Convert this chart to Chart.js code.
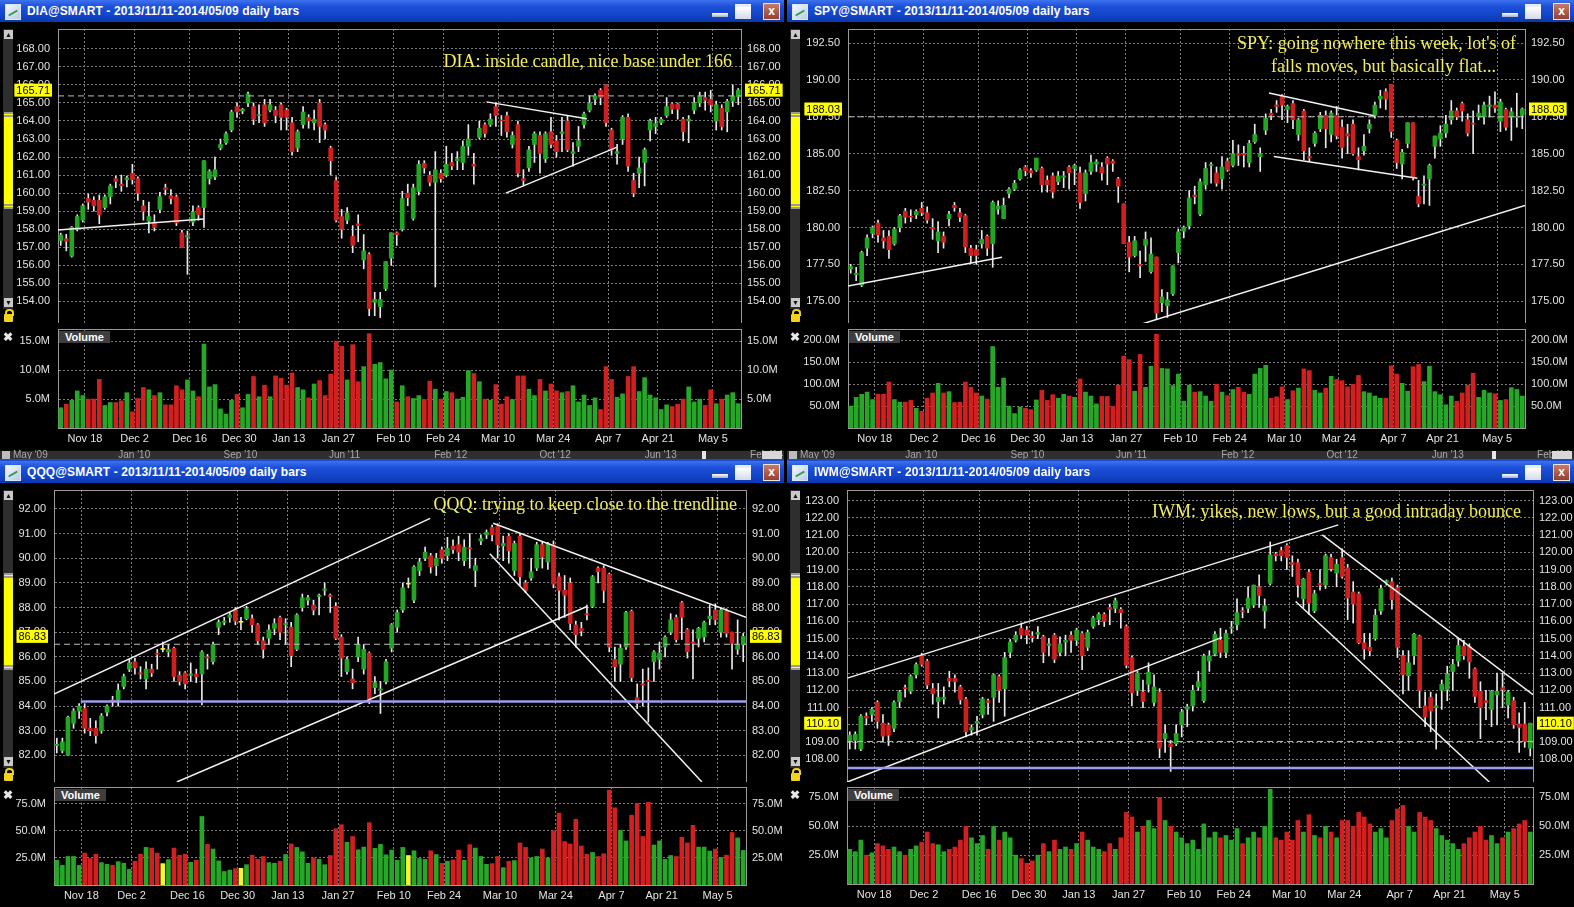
<!DOCTYPE html>
<html><head><meta charset="utf-8">
<script src="https://cdn.jsdelivr.net/npm/chart.js@4.4.1/dist/chart.umd.min.js"></script>
<style>
html,body{margin:0;padding:0;background:#000;width:1574px;height:907px;overflow:hidden;font-family:"Liberation Sans",Arial,sans-serif;}
canvas{position:absolute;}
</style></head><body>
<script>
// ---------- categories (trading days) ----------
const dates = [
 'Nov 11','Nov 12','Nov 13','Nov 14','Nov 15','Nov 18','Nov 19','Nov 20','Nov 21','Nov 22','Nov 25','Nov 26','Nov 27','Nov 29',
 'Dec 2','Dec 3','Dec 4','Dec 5','Dec 6','Dec 9','Dec 10','Dec 11','Dec 12','Dec 13','Dec 16','Dec 17','Dec 18','Dec 19','Dec 20','Dec 23','Dec 24','Dec 26','Dec 27','Dec 30','Dec 31',
 'Jan 2','Jan 3','Jan 6','Jan 7','Jan 8','Jan 9','Jan 10','Jan 13','Jan 14','Jan 15','Jan 16','Jan 17','Jan 21','Jan 22','Jan 23','Jan 24','Jan 27','Jan 28','Jan 29','Jan 30','Jan 31',
 'Feb 3','Feb 4','Feb 5','Feb 6','Feb 7','Feb 10','Feb 11','Feb 12','Feb 13','Feb 14','Feb 18','Feb 19','Feb 20','Feb 21','Feb 24','Feb 25','Feb 26','Feb 27','Feb 28',
 'Mar 3','Mar 4','Mar 5','Mar 6','Mar 7','Mar 10','Mar 11','Mar 12','Mar 13','Mar 14','Mar 17','Mar 18','Mar 19','Mar 20','Mar 21','Mar 24','Mar 25','Mar 26','Mar 27','Mar 28','Mar 31',
 'Apr 1','Apr 2','Apr 3','Apr 4','Apr 7','Apr 8','Apr 9','Apr 10','Apr 11','Apr 14','Apr 15','Apr 16','Apr 17','Apr 21','Apr 22','Apr 23','Apr 24','Apr 25','Apr 28','Apr 29','Apr 30',
 'May 1','May 2','May 5','May 6','May 7','May 8','May 9'];
const tickLabels = ['Nov 18','Dec 2','Dec 16','Dec 30','Jan 13','Jan 27','Feb 10','Feb 24','Mar 10','Mar 24','Apr 7','Apr 21','May 5'];
const scrollLabels = ["May '09","Jan '10","Sep '10","Jun '11","Feb '12","Oct '12","Jun '13","Feb '14"];

// ---------- DIA ----------
const DIA_open = [157.37,157.46,156.50,158.00,158.50,159.70,159.60,159.60,159.20,159.80,
160.80,160.50,160.75,161.10,160.80,159.30,158.45,158.40,159.10,160.30,
159.85,159.80,157.80,157.55,158.40,159.20,159.20,160.80,160.90,162.50,
162.80,163.50,164.80,164.55,165.00,164.80,164.30,164.90,164.60,164.60,
164.90,164.60,163.90,162.50,163.80,164.20,163.90,165.00,163.80,162.50,
160.70,158.70,158.50,157.60,158.30,156.30,156.60,153.95,153.70,154.70,
156.40,157.80,158.00,160.00,158.60,160.10,161.65,161.00,160.60,161.10,
161.00,161.70,161.80,161.70,162.60,161.60,163.10,163.80,163.80,164.80,
164.05,164.30,162.70,163.80,160.80,161.40,162.70,163.20,161.90,163.40,
162.90,163.30,164.00,162.20,162.60,163.80,164.60,165.20,165.70,166.00,
163.50,162.20,163.00,164.20,160.70,161.10,161.70,163.50,163.70,163.90,
164.30,164.95,164.95,164.10,164.00,164.60,165.00,165.30,165.20,164.00,
164.70,164.50,165.10,165.35];
const DIA_high = [157.78,157.72,158.15,158.80,159.40,159.95,159.80,159.90,159.90,160.50,
160.95,161.00,160.95,161.60,160.90,159.60,159.50,158.80,160.05,160.50,
160.20,159.90,157.95,157.90,159.30,159.30,161.80,161.30,162.00,163.00,
163.40,164.60,165.00,164.70,165.60,165.00,164.90,165.20,165.20,164.80,
165.00,164.70,164.20,163.50,164.80,164.35,164.60,165.20,163.90,162.60,
160.90,159.10,159.20,158.20,158.80,157.70,156.70,154.50,154.50,156.20,
157.80,157.85,160.10,160.50,160.50,161.80,161.80,161.20,162.30,161.30,
162.60,162.20,162.30,162.90,163.80,162.20,164.00,163.90,164.40,165.00,
164.30,164.50,163.40,164.00,161.30,162.60,163.40,163.40,163.40,164.20,
163.20,164.20,164.30,162.80,163.70,164.50,165.40,165.50,165.80,166.00,
163.60,162.70,164.30,164.40,161.10,162.00,162.50,164.10,164.20,164.20,
165.30,165.00,165.00,164.20,164.30,165.30,165.60,165.60,165.70,165.10,
164.90,165.20,166.00,165.80];
const DIA_low = [157.10,156.80,156.45,157.90,158.40,159.10,159.00,158.30,159.10,159.40,
160.30,160.10,160.35,160.50,159.60,158.50,157.80,157.90,158.90,159.90,
159.40,158.20,157.00,155.50,158.20,158.50,158.10,160.50,160.75,162.40,
162.70,163.40,164.20,164.40,164.80,163.80,163.90,163.70,164.50,163.90,
163.50,163.50,162.10,162.30,163.60,163.60,163.50,162.80,163.00,161.00,
158.40,157.50,158.30,156.70,157.30,155.80,153.20,153.20,153.10,154.60,
156.00,157.10,157.90,159.30,158.50,159.90,161.10,160.40,154.80,160.60,
160.90,161.30,161.30,161.30,162.10,160.50,163.00,163.10,163.70,163.70,
163.20,163.10,162.50,160.90,160.40,161.20,161.70,161.10,161.70,162.50,
162.00,162.30,162.30,161.50,162.30,163.60,164.50,164.90,164.90,163.70,
162.10,161.60,162.70,161.20,159.80,160.30,160.40,162.90,163.30,163.80,
164.20,164.40,164.10,162.90,162.80,164.40,164.80,164.60,164.50,163.50,
163.50,163.40,164.80,164.90];
const DIA_close = [157.68,157.33,158.10,158.70,159.30,159.50,159.30,158.80,159.80,160.40,
160.65,160.40,160.85,160.75,160.00,159.00,158.70,158.10,159.80,160.20,
159.70,158.35,157.00,157.65,158.95,158.80,161.80,161.20,161.30,162.70,
163.30,164.50,164.50,164.65,165.50,164.10,164.35,163.90,164.90,164.30,
164.20,164.20,162.30,163.40,164.50,164.00,164.10,163.70,163.50,161.80,
158.50,158.00,158.90,157.10,158.20,156.80,153.60,154.10,154.10,156.20,
157.80,157.70,159.70,159.75,160.30,161.60,161.40,160.60,161.30,160.80,
161.60,161.50,161.90,162.60,163.00,161.50,163.60,163.30,164.10,164.30,
164.00,163.40,163.20,161.10,160.70,162.40,163.30,162.20,163.30,162.70,
162.30,163.40,162.40,162.30,162.90,164.40,165.00,165.40,165.30,163.90,
162.40,162.30,164.20,161.50,160.00,161.40,162.40,164.00,163.85,164.10,
164.80,164.65,164.65,163.40,164.10,165.00,165.40,165.15,164.90,164.90,
163.70,165.10,165.39,165.71];
const DIA_vol = [3.5,4.1,4.8,6.4,5.6,5.0,5.0,8.4,3.9,4.4,
4.4,4.7,6.1,2.8,5.1,7.0,6.6,5.6,6.1,4.0,
4.0,7.3,6.6,8.3,6.4,5.4,14.5,7.1,7.5,3.3,
2.4,4.8,5.8,3.5,5.8,8.9,5.4,7.4,5.4,9.0,
8.6,7.4,9.5,7.0,6.6,5.2,7.6,8.2,5.6,9.3,
15.0,14.1,8.3,14.4,8.0,10.6,16.3,11.0,11.3,8.5,
10.0,4.5,7.3,5.4,5.1,5.6,4.9,8.1,6.7,5.0,
6.3,6.1,5.0,5.3,9.9,9.4,8.0,5.0,4.8,7.5,
4.1,5.4,4.9,9.0,9.0,6.7,5.6,8.4,6.4,7.6,
6.4,6.1,6.3,7.3,4.5,5.7,3.9,5.2,3.2,10.6,
8.4,5.3,5.9,8.9,10.6,6.3,8.7,5.7,5.2,3.2,
4.0,3.7,4.1,5.0,7.1,4.5,5.0,3.9,6.6,4.2,
5.0,5.7,6.1,4.2];
const DIA_priceTicks = [154,155,156,157,158,159,160,161,162,163,164,165,166,167,168];
const DIA_volTicks = [5,10,15];
const DIA_trend = [[-0.6,157.96,25.9,158.57],[77.3,165.06,95.5,164.13],[80.8,160.0,100.9,162.54]];

// ---------- SPY ----------
const SPY_open = [177.20,176.80,176.10,178.60,179.60,180.30,179.30,179.40,178.90,180.00,
181.10,180.75,180.85,181.30,181.00,180.00,179.10,179.40,180.60,181.50,
181.00,180.80,178.60,178.50,178.90,179.40,178.90,181.25,180.60,182.30,
182.60,183.30,184.10,183.85,183.90,184.00,183.20,183.50,183.10,183.40,
184.10,184.00,183.70,182.30,183.80,184.30,184.10,184.70,184.50,183.30,
181.60,179.00,178.10,177.50,178.80,177.00,178.00,174.90,174.70,175.50,
178.30,179.75,180.10,182.20,180.90,182.90,184.20,183.70,183.30,184.50,
184.20,185.00,185.00,184.40,185.80,184.80,186.60,187.75,188.30,188.90,
188.00,188.40,186.30,187.90,184.80,185.70,186.70,187.60,186.30,187.60,
186.80,186.35,187.00,184.80,185.20,186.70,187.60,188.70,189.20,189.70,
185.90,184.30,185.70,187.10,182.10,182.85,183.30,185.50,186.00,186.40,
187.30,187.90,188.40,187.30,187.05,187.50,187.50,188.20,188.30,187.20,
188.00,187.50,187.45,187.60];
const SPY_high = [177.50,177.30,178.40,179.50,180.10,180.50,179.80,179.80,180.00,180.90,
181.30,181.20,181.20,181.70,181.40,180.60,180.40,179.70,181.10,181.70,
181.30,180.90,178.80,178.80,179.80,179.50,181.80,181.80,182.00,182.70,
183.20,184.00,184.20,184.00,184.70,184.10,183.50,183.70,183.80,183.80,
184.20,184.30,184.10,183.90,184.90,184.60,184.40,184.80,184.60,183.40,
181.60,179.40,179.40,178.40,179.70,179.30,178.00,175.80,175.60,177.40,
179.90,180.10,182.50,182.80,183.30,184.40,184.40,184.10,184.80,184.70,
185.90,185.60,185.50,185.90,187.00,185.40,187.70,188.00,188.60,189.00,
188.30,188.60,187.40,188.00,185.40,186.50,187.80,187.90,187.90,188.20,
187.30,187.00,187.30,185.40,186.30,187.30,188.50,189.30,189.40,189.70,
186.00,185.30,187.10,187.10,183.20,183.50,184.30,186.20,186.90,187.60,
188.60,188.10,188.50,187.70,187.90,188.30,188.50,188.90,189.20,188.70,
188.10,188.10,189.10,188.10];
const SPY_low = [176.90,176.40,176.00,178.10,179.30,179.00,178.60,177.90,178.80,179.70,
180.30,180.40,180.60,180.80,180.30,179.20,178.30,178.60,180.10,181.10,
180.40,178.30,177.60,177.50,178.60,178.10,177.30,180.90,180.60,182.00,
182.50,183.20,183.50,183.40,183.80,182.40,182.40,182.00,182.90,182.70,
182.60,182.90,181.30,181.80,183.60,183.80,183.20,182.90,183.80,181.70,
178.90,177.00,178.00,176.60,177.70,176.90,173.80,174.30,173.90,175.40,
177.60,179.30,179.90,181.60,180.80,182.60,183.00,182.80,182.60,183.80,
184.10,184.20,184.10,184.10,185.70,183.80,186.30,187.30,187.80,187.30,
187.10,186.70,185.90,184.60,184.50,185.50,186.50,185.40,185.80,186.00,
184.70,185.00,184.90,183.90,184.90,186.40,187.40,188.10,188.00,186.10,
184.00,183.30,185.40,183.20,181.40,181.60,181.50,184.70,185.50,186.10,
187.00,187.30,187.20,186.20,185.00,187.30,187.00,187.50,187.80,186.50,
186.60,185.90,186.80,186.70];
const SPY_close = [177.35,176.90,178.30,179.30,180.00,179.50,179.10,178.50,179.90,180.80,
180.70,180.70,181.10,181.00,180.50,179.90,179.70,179.00,180.90,181.35,
180.70,178.70,178.10,178.10,179.20,178.60,181.70,181.45,181.50,182.60,
183.00,183.90,183.85,183.70,184.70,182.90,182.90,182.40,183.50,183.50,
183.70,184.20,181.70,183.70,184.40,184.45,183.70,184.30,184.35,182.80,
178.90,178.00,179.10,177.40,179.20,178.20,174.20,175.30,175.10,177.40,
179.70,180.00,182.00,182.10,183.10,184.00,184.25,183.00,184.10,183.90,
185.00,184.90,184.90,185.70,186.30,185.00,187.40,187.60,188.20,188.30,
188.20,187.30,187.30,185.20,184.70,186.40,187.60,186.70,187.75,186.20,
185.40,186.20,185.00,184.60,185.50,187.00,188.30,188.90,188.70,186.50,
184.40,185.10,187.10,183.40,181.60,182.95,184.20,186.20,186.40,187.00,
187.90,187.50,187.90,186.40,187.00,187.75,188.30,188.30,188.10,188.50,
186.80,187.85,187.50,188.03];
const SPY_vol = [50,70,77,82,65,77,77,105,65,59,
59,63,45,38,68,80,102,80,83,58,
59,105,93,80,73,66,186,93,114,50,
33,48,45,42,64,86,63,76,68,77,
73,70,112,82,73,55,72,72,49,98,
164,156,84,168,93,141,214,136,135,97,
123,61,98,82,83,73,61,100,82,74,
88,93,82,77,123,136,143,68,71,94,
65,85,91,135,131,86,80,91,118,111,
108,94,100,120,83,80,73,68,68,142,
123,102,84,140,145,106,141,83,76,53,
73,61,80,98,125,70,86,80,78,63,
65,92,88,73];
const SPY_priceTicks = [175,177.5,180,182.5,185,187.5,190,192.5];
const SPY_volTicks = [50,100,150,200];
const SPY_trend = [[-0.5,176.04,27.7,177.98],[53.3,173.46,123.5,181.49],[76.6,189.11,95.8,187.57],[77.5,184.81,103.8,183.34]];

// ---------- QQQ ----------
const QQQ_open = [82.40,82.20,82.00,83.30,83.80,83.90,83.10,83.10,83.00,83.75,
84.25,84.25,84.80,85.50,85.80,85.35,85.10,85.50,86.15,86.30,
86.20,86.35,85.25,85.35,85.25,85.30,85.30,86.00,85.80,87.20,
87.40,87.60,87.90,87.40,87.55,87.55,87.30,86.65,86.75,87.15,
87.60,87.30,87.20,86.30,88.00,88.30,88.10,88.45,88.70,88.50,
88.05,86.80,85.40,85.10,86.00,85.50,86.15,84.75,84.65,85.00,
86.35,87.20,87.90,88.95,88.30,89.50,90.00,90.10,89.70,90.35,
90.10,90.50,90.55,89.90,90.42,89.50,90.70,90.95,91.25,91.30,
90.50,90.90,89.50,90.90,89.00,89.20,89.60,90.55,89.85,90.55,
89.25,88.70,89.00,87.30,87.15,87.75,88.05,89.60,89.60,89.35,
85.90,85.70,86.40,87.85,84.35,84.90,85.05,85.80,85.90,86.40,
87.00,87.60,88.20,87.10,86.60,86.75,86.80,87.55,87.90,87.00,
87.85,87.00,86.30,86.50];
const QQQ_high = [82.70,82.70,83.60,83.90,84.10,84.10,83.50,83.40,83.70,84.05,
84.40,84.90,85.30,85.90,85.95,85.60,85.80,85.70,86.30,86.60,
86.50,86.40,85.40,85.40,85.75,85.50,86.25,86.10,86.60,87.50,
87.60,87.80,88.00,87.60,88.05,87.70,87.35,86.80,87.30,87.55,
87.65,87.55,87.40,87.75,88.55,88.50,88.30,88.55,89.00,88.55,
88.20,86.90,86.00,85.50,86.80,86.50,86.20,85.20,85.00,85.90,
87.35,87.90,89.00,89.20,89.70,90.00,90.45,90.20,90.20,90.45,
90.85,90.75,90.90,90.75,91.00,90.00,90.95,91.15,91.35,91.40,
90.90,91.00,90.70,91.00,89.10,90.00,90.65,90.65,90.65,90.70,
89.40,89.30,89.20,87.45,87.40,88.10,89.30,89.65,89.70,89.40,
86.40,86.50,87.85,87.90,84.90,85.50,85.55,86.25,86.60,86.85,
87.75,87.70,88.25,87.15,87.10,87.20,87.45,88.10,88.15,88.00,
87.95,87.00,87.50,86.95];
const QQQ_low = [82.10,82.10,82.00,83.10,83.50,82.90,82.80,82.50,82.90,83.60,
84.00,84.00,84.70,85.40,85.30,85.10,84.70,85.20,85.50,86.20,
86.00,85.00,84.85,84.70,85.00,84.95,84.05,85.50,85.70,86.90,
87.30,87.40,87.30,87.10,87.50,87.00,86.50,85.95,86.50,86.90,
86.70,86.50,85.60,86.25,87.85,88.10,87.70,87.70,88.50,87.80,
86.70,85.20,85.30,84.70,85.80,85.30,84.10,84.50,83.70,84.90,
86.20,87.00,87.80,88.80,88.20,89.30,89.90,89.40,89.30,89.80,
89.90,90.20,89.90,89.70,89.60,88.85,90.55,90.80,90.70,90.00,
89.90,89.80,89.30,88.90,88.60,89.10,89.50,89.60,89.55,88.80,
87.50,87.60,87.10,86.40,86.85,87.50,88.00,89.00,88.20,86.20,
85.00,85.00,86.30,85.00,83.90,84.00,83.35,85.00,85.50,86.00,
86.90,86.60,86.70,85.95,85.10,86.40,86.60,87.30,87.30,86.80,
86.80,85.50,86.10,85.80];
const QQQ_close = [82.45,82.55,83.55,83.80,84.00,83.10,83.00,82.80,83.60,84.00,
84.20,84.65,85.20,85.75,85.55,85.30,85.50,85.35,86.10,86.30,
86.30,85.20,85.00,84.90,85.30,85.20,86.20,85.95,86.50,87.40,
87.45,87.70,87.45,87.40,87.95,87.30,86.65,86.30,87.10,87.35,
87.00,87.35,86.05,87.70,88.40,88.40,87.90,88.50,88.75,88.45,
86.75,85.95,85.90,84.95,86.50,86.30,84.30,84.95,84.70,85.80,
87.30,87.80,88.80,88.95,89.65,89.85,90.25,89.65,90.00,90.00,
90.40,90.35,90.25,90.45,90.38,89.70,90.80,91.05,90.95,90.55,
90.60,90.30,90.60,89.25,88.70,89.45,90.55,90.05,90.60,88.95,
88.70,88.50,87.35,86.90,87.05,87.70,89.25,89.45,88.70,86.40,
85.60,86.35,87.80,85.15,84.10,84.85,85.00,86.20,86.15,86.80,
87.50,86.70,87.60,86.20,86.55,87.15,87.40,87.65,87.50,87.90,
86.95,86.55,86.51,86.83];
const QQQ_vol = [22.9,18.2,26.4,26.4,18.2,29.5,24.5,28.5,20.7,19.1,
18.2,21.6,20.1,14.4,22.0,28.5,34.8,34.2,29.5,19.8,
23.5,34.2,27.6,28.5,21.0,22.9,63.4,37.6,33.3,22.3,
12.5,13.8,15.1,15.4,18.8,27.6,23.8,26.4,20.7,20.1,
22.0,28.2,38.0,34.8,30.7,20.1,25.1,23.8,18.8,27.3,
52.1,55.8,39.5,44.9,32.6,35.1,57.7,33.9,37.6,27.9,
32.3,22.9,34.8,27.3,31.7,24.5,23.8,31.7,28.2,20.1,
22.0,23.2,32.3,22.9,37.3,34.2,26.4,19.1,19.8,26.4,
16.0,22.0,22.6,38.9,34.8,25.1,26.4,33.3,25.1,50.2,
66.5,40.2,38.0,60.9,36.1,28.5,30.1,26.4,28.9,87.8,
71.5,50.5,40.8,64.6,75.6,44.9,76.5,37.0,40.8,23.8,
27.3,26.4,44.2,38.9,55.2,35.1,35.1,31.4,33.3,25.4,
27.6,48.6,43.6,32.0];
const QQQ_priceTicks = [82,83,84,85,86,87,88,89,90,91,92];
const QQQ_volTicks = [25,50,75];
const QQQ_trend = [[-0.5,84.49,66.9,91.62],[21.5,80.92,95.0,88.04],[78.2,91.42,123.5,87.6],[77.6,90.18,115.6,80.92]];
const QQQ_support = [4.3,84.19,123.5,84.19];

// ---------- IWM ----------
const IWM_open = [109.10,109.10,108.60,110.50,110.60,111.30,110.10,110.00,109.80,111.35,
112.15,111.95,112.90,114.00,113.70,112.10,111.35,111.50,112.70,112.70,
112.20,111.50,109.70,110.10,110.60,111.40,111.60,112.80,112.10,114.20,
114.90,115.60,115.50,115.15,115.25,115.10,114.60,115.20,114.20,114.80,
115.20,114.90,115.30,114.50,115.70,116.10,116.40,116.80,116.75,116.70,
115.70,113.90,112.00,111.90,112.35,111.30,111.90,109.20,108.90,108.90,
110.00,110.90,111.10,112.20,111.40,113.70,114.10,114.90,114.20,115.60,
115.80,116.60,116.75,116.95,118.00,116.60,118.20,119.90,120.10,120.40,
119.40,119.40,117.30,118.85,116.60,118.20,118.10,119.70,118.80,119.70,
119.10,117.70,117.60,114.75,114.50,115.00,116.60,118.25,118.30,117.95,
114.00,112.85,114.00,115.15,111.10,111.60,111.00,112.00,112.05,113.10,
113.70,114.55,114.55,113.25,111.95,111.40,110.90,111.75,112.15,111.15,
111.40,110.05,110.05,108.65];
const IWM_high = [109.60,109.60,110.60,110.70,111.00,111.40,110.60,110.10,111.40,112.00,
112.30,112.90,113.60,114.15,113.80,112.40,112.40,112.20,113.10,112.90,
112.30,111.60,110.00,110.50,111.60,111.50,112.95,112.90,114.20,114.95,
115.40,115.90,115.70,115.40,115.70,115.20,115.00,115.30,115.10,115.20,
115.40,115.60,115.40,115.50,116.30,116.50,116.50,117.00,117.35,116.80,
115.80,114.00,113.10,112.60,113.60,112.90,112.10,110.00,109.10,110.00,
110.90,111.20,112.30,113.10,114.10,114.30,115.40,115.60,115.50,116.00,
117.30,116.80,118.00,118.10,118.70,117.30,120.60,120.00,120.30,120.50,
119.80,119.60,118.50,119.00,117.80,119.00,119.90,119.90,119.60,120.20,
119.30,118.30,117.70,115.30,115.30,116.70,118.10,118.40,118.50,118.10,
114.30,114.30,115.30,115.20,111.90,111.90,111.80,112.60,113.40,113.80,
115.00,114.90,114.70,113.30,112.50,112.00,112.00,113.00,113.00,112.00,
111.60,110.70,111.30,110.10];
const IWM_low = [108.60,108.60,108.50,110.00,110.20,109.80,109.00,108.80,109.60,111.00,
111.60,111.80,112.70,113.40,112.10,111.20,110.40,111.20,112.20,111.90,
111.20,109.30,109.40,109.40,110.40,110.60,110.20,111.30,110.50,113.90,
114.80,115.00,114.70,114.80,115.00,113.60,114.00,113.60,114.00,114.00,
114.20,114.60,113.20,114.30,115.60,115.80,115.70,115.80,116.50,115.60,
113.30,111.10,111.70,111.00,111.90,111.10,108.10,108.40,107.30,108.80,
109.30,109.90,110.80,112.00,111.30,113.10,114.00,113.90,113.90,115.30,
115.50,116.20,116.50,116.80,116.80,115.60,118.10,119.50,119.50,119.00,
118.60,117.40,116.80,116.40,116.50,117.80,117.90,118.90,118.00,118.50,
116.10,115.90,114.70,113.80,114.00,114.90,116.40,118.10,116.70,113.90,
111.80,112.00,113.50,111.00,109.90,109.60,108.60,110.90,111.40,112.00,
113.40,113.80,112.70,111.30,109.20,110.30,109.90,110.00,111.00,110.40,
109.80,108.40,108.70,108.20];
const IWM_close = [109.40,109.45,110.50,110.40,110.90,110.20,109.35,109.40,111.30,111.90,
112.10,112.80,113.50,113.50,112.30,111.80,111.60,111.60,112.55,112.50,
111.45,109.60,109.85,110.20,111.50,111.30,112.90,112.00,113.90,114.80,
115.20,115.20,115.20,115.05,115.35,114.20,114.70,113.80,114.70,114.90,
114.90,115.50,114.00,115.35,116.20,116.40,116.00,116.70,117.20,116.50,
113.45,111.85,113.00,111.35,113.05,112.20,108.65,109.50,108.75,109.50,
110.75,111.05,112.00,112.50,114.00,114.00,115.25,114.20,115.30,115.65,
116.50,116.55,117.35,118.10,117.50,116.90,119.85,119.80,119.80,119.70,
119.30,118.10,118.45,117.05,117.60,118.10,119.80,119.05,119.30,118.60,
117.35,117.00,114.75,114.40,114.30,116.35,117.90,118.35,117.25,114.50,
112.90,113.60,115.25,112.00,110.45,110.80,111.10,112.35,112.95,113.50,
114.60,114.00,113.65,111.65,111.00,111.30,111.95,111.95,112.05,111.90,
110.00,109.85,109.04,110.10];
const IWM_vol = [30,28,38,25,27,35,33,30,32,28,
25,30,33,36,45,35,34,28,30,32,
38,50,40,35,42,30,50,38,45,40,
25,22,18,20,25,35,28,38,30,32,
30,35,45,38,32,30,28,35,30,40,
62,58,45,50,55,48,75,55,50,45,
40,35,38,30,52,40,45,40,42,38,
48,35,40,45,40,50,82,40,38,45,
38,55,45,60,42,40,50,45,40,55,
55,50,62,58,52,45,48,40,55,65,
68,50,45,62,58,55,48,42,38,35,
30,35,40,45,50,38,42,35,40,45,
48,52,55,45];
const IWM_priceTicks = [108,109,110,111,112,113,114,115,116,117,118,119,120,121,122,123];
const IWM_volTicks = [25,50,75];
const IWM_trend = [[-0.45,112.71,88.3,121.59],[-0.45,106.69,67.3,115.07],[85.4,121.01,123.5,111.75],[80.6,117.15,115.6,106.69]];
const IWM_support = [-0.5,107.5,123.5,107.5];

// ---------- rendering ----------
const FONT = '"Liberation Sans", Arial, Helvetica, sans-serif';
const GREEN = '#22a522', RED = '#cf1e1e', YELLOW = '#f4f430';
const GRIDC = '#7c7c7c', FRAMEC = '#9a9a9a', TICKC = '#e2e2e2';
Chart.defaults.font.family = FONT;
Chart.defaults.font.size = 11;
Chart.defaults.color = TICKC;
const N = dates.length;
const tickIdx = tickLabels.map(l => dates.indexOf(l));

const framePlugin = {
  id: 'frameTop',
  afterDraw(chart) {
    const a = chart.chartArea, ctx = chart.ctx;
    ctx.save(); ctx.strokeStyle = FRAMEC; ctx.lineWidth = 1;
    ctx.beginPath(); ctx.moveTo(a.left, a.top + 0.5); ctx.lineTo(a.right, a.top + 0.5); ctx.stroke();
    ctx.restore();
  }
};
const lastPricePlugin = {
  id: 'lastPrice',
  afterDraw(chart) {
    const o = chart.options.plugins.lastPrice;
    if (!o || o.value === undefined) return;
    const ctx = chart.ctx, a = chart.chartArea, y = chart.scales.y.getPixelForValue(o.value);
    const txt = o.value.toFixed(2);
    ctx.save();
    ctx.font = '11px ' + FONT;
    const tw = ctx.measureText(txt).width;
    ctx.fillStyle = '#ffff00';
    ctx.fillRect(a.left - 8 - tw - 2, y - 6.5, tw + 4, 13);
    ctx.fillRect(a.right + 4, y - 6.5, tw + 4, 13);
    ctx.fillStyle = '#000'; ctx.textBaseline = 'middle';
    ctx.textAlign = 'right'; ctx.fillText(txt, a.left - 8, y + 0.5);
    ctx.textAlign = 'left'; ctx.fillText(txt, a.right + 6, y + 0.5);
    ctx.restore();
  }
};
Chart.register(framePlugin, lastPricePlugin);

function el(parent, css, html) {
  const d = document.createElement('div'); d.style.cssText = css;
  if (html !== undefined) d.innerHTML = html;
  parent.appendChild(d); return d;
}
function colorOf(o, c) { return c > o ? GREEN : (c < o ? RED : YELLOW); }

function xScale(showLabels, h) {
  return {
    type: 'linear', min: -0.5, max: N - 0.5, offset: false,
    afterBuildTicks: s => { s.ticks = tickIdx.map(i => ({ value: i - 0.6 })); },
    ticks: { display: showLabels, autoSkip: false, maxRotation: 0, minRotation: 0, padding: 4, color: TICKC,
             font: { size: 11 }, callback: (v, i) => tickLabels[i] },
    grid: { color: GRIDC, drawTicks: false, offset: false },
    border: { display: true, color: FRAMEC, dash: [2, 2] },
    afterFit: s => { s.height = h; s.paddingLeft = 0; s.paddingRight = 0; s.paddingTop = 0; s.paddingBottom = 0; }
  };
}
function yScale(pos, min, max, ticks, fmt, width) {
  return {
    type: 'linear', position: pos, min, max,
    afterBuildTicks: s => { s.ticks = ticks.map(v => ({ value: v })); },
    ticks: { color: TICKC, padding: pos === 'left' ? 8 : 6, autoSkip: false, callback: v => fmt(v) },
    grid: { display: pos === 'left', color: GRIDC, drawTicks: false },
    border: { display: true, color: FRAMEC, dash: [2, 2] },
    afterFit: s => { s.width = width; s.paddingTop = 0; s.paddingBottom = 0; }
  };
}
function lineDs(L, color, width) {
  return { type: 'line', data: [{ x: L[0], y: L[1] }, { x: L[2], y: L[3] }], borderColor: color, borderWidth: width,
           pointRadius: 0, order: 0, clip: 0 };
}

function buildPanel(P) {
  const [wx, wy, ww, wh] = P.win;
  const W = el(document.body, `position:absolute;left:${wx}px;top:${wy}px;width:${ww}px;height:${wh}px;background:#000;overflow:hidden;`);
  // title bar
  const tb = el(W, 'position:absolute;left:0;top:0;right:0;height:22px;background:linear-gradient(180deg,#3d72f0 0%,#1d50d8 30%,#1244c6 70%,#0b37b2 100%);');
  const ic = el(tb, 'position:absolute;left:5px;top:4px;width:14px;height:14px;background:linear-gradient(135deg,#f4f8ff,#b9cbe6);border:1px solid #dbe6ff;');
  el(ic, 'position:absolute;left:2px;top:7px;width:10px;height:2px;background:#2f9a4a;transform:rotate(-30deg);');
  el(tb, 'position:absolute;left:27px;top:4px;color:#fff;font:bold 12px ' + FONT + ';white-space:nowrap;letter-spacing:0.1px;',
     P.sym + '@SMART - 2013/11/11-2014/05/09 daily bars');
  el(tb, 'position:absolute;right:56px;top:13px;width:16px;height:4px;background:linear-gradient(#ffffff,#9fb0cc);');
  el(tb, 'position:absolute;right:33px;top:4px;width:16px;height:15px;background:linear-gradient(#ffffff,#d3dbe8);box-sizing:border-box;border-top:3px solid #e9eef6;');
  el(tb, 'position:absolute;right:4px;top:3px;width:15px;height:15px;background:linear-gradient(#c97a66,#94412f);border:1px solid #f0e6d8;color:#fff;font:bold 12px ' + FONT + ';text-align:center;line-height:14px;', 'x');

  const pt = P.priceY[0] - wy, ph = P.priceY[1] - P.priceY[0];
  const vt = P.volY[0] - wy, vh = P.volY[1] - P.volY[0];
  const leftW = P.plotL - wx, rightW = wx + ww - P.plotR;
  const labelH = 22;

  // price canvas
  const c1 = document.createElement('canvas');
  c1.width = ww; c1.height = ph; c1.style.left = '0px'; c1.style.top = pt + 'px';
  W.appendChild(c1);
  const cols = P.open.map((o, i) => colorOf(o, P.close[i]));
  const ds = [
    { type: 'bar', data: P.low.map((l, i) => ({ x: i, y: [l, P.high[i]] })), backgroundColor: '#e9e9e9',
      barThickness: 1, maxBarThickness: 1, grouped: false, order: 3 },
    { type: 'bar', data: P.open.map((o, i) => ({ x: i, y: [o, P.close[i]] })), backgroundColor: cols,
      barThickness: 4, maxBarThickness: 4, minBarLength: 1, grouped: false, order: 2 },
    Object.assign(lineDs([-0.5, P.close[N - 2], N - 0.5, P.close[N - 2]], '#bdbdbd', 1), { borderDash: [6, 4], order: 1 })
  ];
  if (P.support) ds.push(lineDs(P.support, '#9d9df2', 2.5));
  P.trend.forEach(L => ds.push(lineDs(L, '#f2f2f2', 1.5)));
  new Chart(c1, {
    type: 'bar', data: { datasets: ds },
    options: {
      responsive: false, animation: false, events: [],
      layout: { padding: 0, autoPadding: false },
      plugins: { legend: { display: false }, tooltip: { enabled: false }, lastPrice: { value: P.close[N - 1] } },
      scales: {
        x: xScale(false, 0),
        y: yScale('left', P.yMin, P.yMax, P.yTicks, v => v.toFixed(2), leftW),
        y2: yScale('right', P.yMin, P.yMax, P.yTicks, v => v.toFixed(2), rightW)
      }
    }
  });

  // volume canvas
  const c2 = document.createElement('canvas');
  c2.width = ww; c2.height = vh + labelH; c2.style.left = '0px'; c2.style.top = vt + 'px';
  W.appendChild(c2);
  new Chart(c2, {
    type: 'bar',
    data: { datasets: [{ data: P.vol.map((v, i) => ({ x: i, y: v })), backgroundColor: cols.map(c => c === GREEN ? '#27a727' : (c === RED ? '#d21f1f' : YELLOW)),
                         barThickness: 4, maxBarThickness: 4, grouped: false }] },
    options: {
      responsive: false, animation: false, events: [],
      layout: { padding: 0, autoPadding: false },
      plugins: { legend: { display: false }, tooltip: { enabled: false } },
      scales: {
        x: xScale(true, labelH),
        y: yScale('left', 0, P.vMax, P.vTicks, v => v.toFixed(1) + 'M', leftW),
        y2: yScale('right', 0, P.vMax, P.vTicks, v => v.toFixed(1) + 'M', rightW)
      }
    }
  });

  // left scroll strip of price pane
  el(W, `position:absolute;left:3px;top:${pt}px;width:10px;height:${ph - 14}px;background:#2e2e2e;`);
  el(W, `position:absolute;left:4px;top:${pt + 1}px;width:9px;height:9px;background:#c9c9c9;color:#111;font:7px ${FONT};text-align:center;line-height:9px;`, '&#9650;');
  el(W, `position:absolute;left:4px;top:${pt + 83}px;width:9px;height:97px;background:#ffff00;box-sizing:border-box;border-top:5px double #9a9a9a;border-bottom:5px double #9a9a9a;`);
  el(W, `position:absolute;left:4px;top:${pt + ph - 25}px;width:9px;height:9px;background:#c9c9c9;color:#111;font:7px ${FONT};text-align:center;line-height:9px;`, '&#9660;');
  el(W, `position:absolute;left:4px;top:${pt + ph - 9}px;width:9px;height:8px;background:#f2d21a;border-radius:1px;`);
  el(W, `position:absolute;left:5px;top:${pt + ph - 14}px;width:5px;height:5px;border:2px solid #f2d21a;border-bottom:none;border-radius:4px 4px 0 0;`);
  // volume pane decorations
  el(W, `position:absolute;left:3px;top:${vt + 1}px;color:#e8e8e8;font:bold 12px ${FONT};`, '&#10006;');
  el(W, `position:absolute;left:${leftW + 1}px;top:${vt + 2}px;height:12px;padding:0 6px;background:#3e3e3e;color:#fff;font:bold 11px ${FONT};line-height:12px;`, 'Volume');

  // annotation notes
  P.notes.forEach(n => el(W, `position:absolute;${n.pos};color:#f2ed5a;font:18px "Liberation Serif","Times New Roman",serif;white-space:nowrap;line-height:20px;`, n.text));

  // bottom scroll bar (only visible for upper windows)
  if (P.strip) {
    const sb = el(W, `position:absolute;left:0;right:0;top:${wh - 10}px;height:8px;background:#2f2f2f;`);
    el(sb, `position:absolute;left:2px;top:0;width:8px;height:8px;background:#bdbdbd;`);
    scrollLabels.forEach((t, k) => el(sb, `position:absolute;left:${13 + k * 105.3}px;top:-1px;color:#a9a9a9;font:10px ${FONT};white-space:nowrap;line-height:10px;`, t));
    el(sb, `position:absolute;right:78px;top:0;width:4px;height:8px;background:#e8e8e8;`);
    el(sb, `position:absolute;right:2px;top:0;width:20px;height:8px;background:#d8d8d8;`);
    el(W, `position:absolute;left:0;right:0;top:${wh - 2}px;height:2px;background:#1a4ccf;`);
  }
}

const panels = [
  { sym: 'DIA', win: [0, 0, 784, 461], plotL: 58, plotR: 741, priceY: [29, 323], volY: [329, 428],
    yMin: 152.8, yMax: 169.1, yTicks: DIA_priceTicks, vMax: 17.1, vTicks: DIA_volTicks,
    open: DIA_open, high: DIA_high, low: DIA_low, close: DIA_close, vol: DIA_vol, trend: DIA_trend, support: null, strip: true,
    notes: [{ pos: 'right:52px;top:51px', text: 'DIA: inside candle, nice base under 166' }] },
  { sym: 'SPY', win: [787, 0, 787, 461], plotL: 848, plotR: 1525, priceY: [29, 323], volY: [329, 428],
    yMin: 173.53, yMax: 193.45, yTicks: SPY_priceTicks, vMax: 226, vTicks: SPY_volTicks,
    open: SPY_open, high: SPY_high, low: SPY_low, close: SPY_close, vol: SPY_vol, trend: SPY_trend, support: null, strip: true,
    notes: [{ pos: 'right:58px;top:33px', text: "SPY: going nowhere this week, lot's of" },
            { pos: 'left:484px;top:56px', text: 'falls moves, but basically flat...' }] },
  { sym: 'QQQ', win: [0, 461, 784, 446], plotL: 54, plotR: 746, priceY: [490, 782], volY: [787, 885],
    yMin: 80.92, yMax: 92.77, yTicks: QQQ_priceTicks, vMax: 90.7, vTicks: QQQ_volTicks,
    open: QQQ_open, high: QQQ_high, low: QQQ_low, close: QQQ_close, vol: QQQ_vol, trend: QQQ_trend, support: QQQ_support, strip: false,
    notes: [{ pos: 'right:47px;top:33px', text: 'QQQ: trying to keep close to the trendline' }] },
  { sym: 'IWM', win: [787, 461, 787, 446], plotL: 847, plotR: 1533, priceY: [490, 782], volY: [787, 884],
    yMin: 106.69, yMax: 123.61, yTicks: IWM_priceTicks, vMax: 84, vTicks: IWM_volTicks,
    open: IWM_open, high: IWM_high, low: IWM_low, close: IWM_close, vol: IWM_vol, trend: IWM_trend, support: IWM_support, strip: false,
    notes: [{ pos: 'right:53px;top:40px', text: 'IWM: yikes, new lows, but a good intraday bounce' }] }
];
panels.forEach(buildPanel);
</script>
</body></html>
